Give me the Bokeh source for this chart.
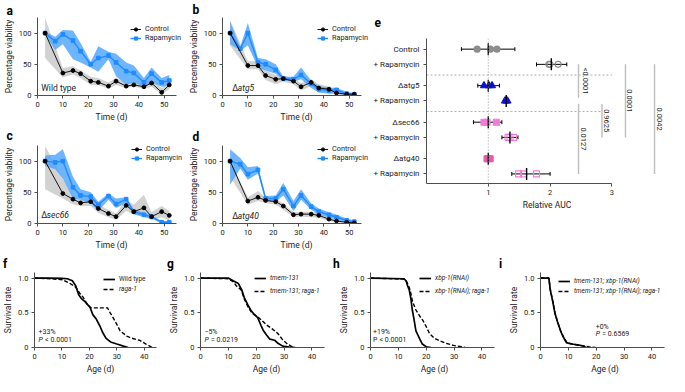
import math
from bokeh.plotting import figure
from bokeh.layouts import row, column
from bokeh.models import (Range1d, FixedTicker, Legend, LegendItem, Label, LabelSet,
                          ColumnDataSource, Span, Whisker, TeeHead)
from bokeh.core.properties import value
from bokeh.embed import file_html
from bokeh.resources import INLINE

# ---------------- data : panels a-d (percentage viability) ----------------
days_control = [3, 10, 14, 17, 21, 24, 28, 31, 35, 38, 42, 45, 49, 52]
days_rapamycin = [3, 7, 10, 14, 17, 21, 24, 28, 31, 35, 38, 42, 45, 49, 52]

wt_ctrl = [100, 36, 40, 35, 23, 21, 15, 23, 15, 17, 14, 20, 5, 17]
wt_ctrl_lo = [60, 29, 34, 28, 17, 17, 11, 17, 12, 14, 11, 14, 2, 10]
wt_ctrl_hi = [124, 44, 47, 40, 30, 28, 21, 28, 20, 23, 20, 26, 12, 24]
wt_rapa = [100, 87, 98, 88, 71, 50, 60, 64, 53, 39, 36, 21, 35, 21, 24]
wt_rapa_lo = [98, 73, 82, 58, 53, 45, 38, 58, 31, 17, 21, 14, 21, 14, 16]
wt_rapa_hi = [102, 94, 105, 104, 84, 54, 79, 70, 67, 53, 48, 28, 45, 28, 33]

atg5_ctrl = [100, 48, 48, 32, 26, 27, 23, 14, 21, 12, 10, 4, 2, 2]
atg5_ctrl_lo = [80, 42, 42, 25, 18, 22, 18, 8, 15, 6, 5, 0, 0, 0]
atg5_ctrl_hi = [121, 55, 55, 40, 33, 32, 28, 20, 26, 18, 15, 8, 4, 3]
atg5_rapa = [100, 75, 100, 53, 50, 41, 27, 26, 33, 19, 10, 8, 9, 3, 2]
atg5_rapa_lo = [82, 72, 80, 45, 40, 35, 24, 22, 26, 12, 5, 3, 4, 0, 0]
atg5_rapa_hi = [118, 78, 116, 60, 58, 50, 30, 30, 45, 24, 15, 13, 12, 6, 4]

sec66_ctrl = [100, 48, 39, 33, 35, 24, 16, 11, 29, 19, 25, 11, 19, 13]
sec66_ctrl_lo = [55, 40, 31, 28, 28, 17, 10, 6, 20, 14, 12, 5, 10, 5]
sec66_ctrl_hi = [124, 72, 45, 38, 40, 30, 22, 16, 38, 30, 46, 18, 28, 20]
sec66_rapa = [100, 98, 100, 58, 45, 43, 30, 44, 31, 39, 19, 14, 11, 2, 2]
sec66_rapa_lo = [92, 87, 72, 40, 38, 32, 20, 38, 25, 32, 15, 10, 8, 0, 0]
sec66_rapa_hi = [109, 110, 119, 75, 55, 50, 35, 48, 40, 42, 22, 18, 13, 4, 4]

atg40_ctrl = [100, 36, 42, 37, 35, 28, 14, 15, 15, 13, 7, 4, 2, 1]
atg40_ctrl_lo = [75, 30, 36, 33, 30, 22, 10, 11, 10, 9, 4, 2, 0, 0]
atg40_ctrl_hi = [100, 42, 52, 42, 40, 32, 18, 19, 19, 17, 10, 7, 4, 3]
atg40_rapa = [100, 95, 79, 86, 40, 40, 55, 28, 45, 27, 19, 14, 10, 5, 3]
atg40_rapa_lo = [62, 88, 70, 80, 36, 35, 45, 20, 38, 22, 14, 10, 6, 2, 0]
atg40_rapa_hi = [119, 105, 90, 92, 44, 45, 65, 36, 55, 32, 24, 18, 14, 8, 5]

time_ticks = [0, 10, 20, 30, 40, 50]
viab_ticks = [0, 50, 100]

# ---------------- data : panel e (relative AUC) ----------------
e_labels = ["Control", "+ Rapamycin", "Δatg5", "+ Rapamycin",
            "Δsec66", "+ Rapamycin", "Δatg40", "+ Rapamycin"]
e_pos = [0, 1, 2.4, 3.4, 4.8, 5.8, 7.2, 8.2]
e_points = [[0.82, 1.04, 1.14], [1.98, 2.0, 2.13], [0.93, 1.01, 1.06], [1.27, 1.29, 1.31],
            [0.93, 0.98, 1.13], [1.32, 1.35, 1.41], [0.98, 1.0, 1.03], [1.49, 1.57, 1.78]]
e_mean = [1.0, 2.02, 1.0, 1.29, 1.0, 1.35, 1.0, 1.62]
e_lo = [0.565, 1.78, 0.83, 1.25, 0.76, 1.22, 0.97, 1.38]
e_hi = [1.43, 2.27, 1.18, 1.33, 1.22, 1.48, 1.03, 2.0]
sep_y = [1.7, 4.1]
sep_x_end = [3.0, 2.84]
br_x = [2.46, 2.46, 2.84, 3.22, 3.69]
br_y0 = [1.0, 3.6, 3.6, 1.0, 1.0]
br_y1 = [3.2, 8.2, 5.8, 5.8, 8.2]
br_p = ["<0.0001", "0.0127", "0.9625", "0.0001", "0.0042"]
auc_ticks = [1, 2, 3]

# styles for panel e groups
e_marker = ["circle", "circle", "triangle", "triangle", "square", "square", "square", "square"]
e_color = ["#8c8c8c", "#8c8c8c", "#0c0cd8", "#0c0cd8", "#f27ad9", "#f27ad9", "#ec58ac", "#f27ad9"]
e_fill_alpha = [1.0, 0.0, 1.0, 0.35, 1.0, 0.0, 1.0, 0.0]
e_size = [6, 6, 7, 7, 6, 6, 6, 6]

# ---------------- data : panels f-i (survival) ----------------
f_wt_t = [0, 5, 10, 12, 13.8, 15, 16.1, 17.2, 18.4, 20.2, 21.3, 22.5, 23.7, 24.8, 26, 27.7, 30, 32.4, 34.1]
f_wt_s = [1.0, 1.0, 0.995, 0.99, 0.96, 0.89, 0.76, 0.70, 0.66, 0.58, 0.47, 0.41, 0.32, 0.22, 0.135, 0.08, 0.05, 0.02, 0.0]
f_rg_t = [0, 6, 10.3, 12.6, 15, 16.7, 17.8, 19.2, 20.7, 26.6, 27.7, 29.5, 31.2, 33.6, 35.3, 38.2, 40.6, 42.9]
f_rg_s = [1.0, 0.99, 0.975, 0.93, 0.87, 0.77, 0.72, 0.62, 0.57, 0.57, 0.49, 0.37, 0.24, 0.165, 0.135, 0.105, 0.05, 0.0]

g_tm_t = [0, 10, 11.7, 13.6, 14.8, 15.7, 16.9, 18, 19.2, 20.5, 21.7, 22.6, 23.7, 24.9, 26.6, 27.8, 29.5, 31.8, 34]
g_tm_s = [1.0, 1.0, 0.96, 0.92, 0.83, 0.72, 0.62, 0.54, 0.48, 0.43, 0.32, 0.24, 0.18, 0.12, 0.105, 0.06, 0.02, 0.005, 0.0]
g_rg_t = [0, 10, 11.7, 12.8, 14.6, 15.7, 17.1, 18.6, 20.3, 22, 23.7, 26, 27.8, 29.5, 31.2, 32.9, 33.5]
g_rg_s = [1.0, 0.99, 0.95, 0.89, 0.83, 0.70, 0.58, 0.49, 0.45, 0.39, 0.325, 0.26, 0.2, 0.11, 0.05, 0.01, 0.0]

h_x_t = [0, 12, 12.8, 13.3, 13.9, 14.5, 15, 15.6, 16.3, 17, 17.7, 18.6, 20, 21.7]
h_x_s = [1.0, 0.99, 0.96, 0.89, 0.83, 0.70, 0.54, 0.41, 0.24, 0.18, 0.12, 0.05, 0.01, 0.0]
h_rg_t = [0, 12, 13.1, 14.2, 15.1, 16.3, 17.7, 18.8, 20, 21.2, 22.9, 24.6, 26.9, 29.8, 32.7, 33.9]
h_rg_s = [1.0, 0.985, 0.94, 0.83, 0.66, 0.54, 0.45, 0.39, 0.30, 0.2, 0.135, 0.10, 0.063, 0.03, 0.01, 0.0]

i_x_t = [0, 3, 3.5, 4.4, 5.2, 6.1, 7.2, 8.1, 9.3, 11, 13.3, 15.6, 16.2]
i_x_s = [1.0, 1.0, 0.83, 0.66, 0.49, 0.37, 0.24, 0.156, 0.07, 0.05, 0.04, 0.02, 0.0]
i_rg_t = [0, 3, 3.6, 4.5, 5.3, 6.2, 7.3, 8.3, 9.5, 11.5, 14, 17.4, 19.7]
i_rg_s = [1.0, 1.0, 0.82, 0.65, 0.48, 0.36, 0.23, 0.15, 0.07, 0.05, 0.03, 0.01, 0.0]

age_ticks = [0, 10, 20, 30, 40]
surv_ticks = [0, 0.5, 1]
surv_tick_labels = ["0", "0.5", "1.0"]

# ---------------- styling ----------------
FONT = "Roboto"
AX = "#4d4d4d"
TXT = "#222222"
BLUE = "#1f8bff"
BLUE_BAND = "#55a8ff"
GRAY_BAND = "#d0d0d0"


def base_fig(w, h, l, r, t, b, xr, yr):
    p = figure(width=w, height=h, x_range=xr, y_range=yr, output_backend="svg",
               toolbar_location=None, min_border_left=l, min_border_right=r,
               min_border_top=t, min_border_bottom=b)
    p.outline_line_color = None
    p.xgrid.visible = False
    p.ygrid.visible = False
    for ax in p.axis:
        ax.axis_line_color = AX
        ax.axis_line_width = 1
        ax.major_tick_line_color = AX
        ax.minor_tick_line_color = None
        ax.major_tick_out = 3
        ax.major_tick_in = 0
        ax.major_label_standoff = 3
        ax.major_label_text_font = FONT
        ax.major_label_text_font_size = "7.5px"
        ax.major_label_text_color = TXT
        ax.axis_label_text_font = FONT
        ax.axis_label_text_font_size = "8.5px"
        ax.axis_label_text_font_style = "normal"
        ax.axis_label_text_color = TXT
        ax.axis_label_standoff = 2
    return p


def letter(p, txt, dx, standoff):
    p.title.text = txt
    p.title.align = "left"
    p.title.offset = dx
    p.title.standoff = standoff
    p.title.vertical_align = "bottom"
    p.title.text_font = FONT
    p.title.text_font_size = "12px"
    p.title.text_font_style = "bold"
    p.title.text_color = "black"


def viability_panel(w, h, t, b, x_end, ctrl, ctrl_lo, ctrl_hi, rapa, rapa_lo, rapa_hi,
                    name_parts, name_x, name_y, let, let_dx, let_so, leg_xy):
    p = base_fig(w, h, 32, 0, t, b, Range1d(0, x_end), Range1d(0, 125))
    p.xaxis.bounds = (0, 55)
    p.xaxis.ticker = FixedTicker(ticks=time_ticks)
    p.yaxis.ticker = FixedTicker(ticks=viab_ticks)
    p.xaxis.axis_label = "Time (d)"
    p.yaxis.axis_label = "Percentage viability"
    p.varea(x=days_control, y1=ctrl_lo, y2=ctrl_hi, fill_color=GRAY_BAND, fill_alpha=0.95)
    p.varea(x=days_rapamycin, y1=rapa_lo, y2=rapa_hi, fill_color=BLUE_BAND, fill_alpha=0.85)
    rr1 = p.line(days_rapamycin, rapa, line_color=BLUE, line_width=1.4)
    rr2 = p.scatter(days_rapamycin, rapa, marker="square", size=3.6, color=BLUE)
    rc1 = p.line(days_control, ctrl, line_color="black", line_width=0.9)
    rc2 = p.scatter(days_control, ctrl, marker="circle", size=3.8, color="black")
    for txt, style, dx in name_parts:
        p.add_layout(Label(x=name_x, y=name_y, x_offset=dx, text=txt, text_font=FONT,
                           text_font_style=style, text_font_size="8.5px",
                           text_baseline="middle", text_color=TXT))
    leg = Legend(items=[LegendItem(label="Control", renderers=[rc1, rc2]),
                        LegendItem(label="Rapamycin", renderers=[rr1, rr2])],
                 location=leg_xy, glyph_width=11, glyph_height=8, label_height=8,
                 label_standoff=4, padding=0, margin=0, spacing=0,
                 border_line_color=None, background_fill_alpha=0,
                 label_text_font=FONT, label_text_font_size="7.3px", label_text_color=TXT)
    p.add_layout(leg)
    letter(p, let, let_dx, let_so)
    return p


# x_end lets the frame run under the legend; the axis itself stops at 55
pa = viability_panel(185, 124, 12, 29, 58.4, wt_ctrl, wt_ctrl_lo, wt_ctrl_hi,
                     wt_rapa, wt_rapa_lo, wt_rapa_hi, [("Wild type", "normal", 0)],
                     1.5, 12.7, "a", -31, 0, (93, 53))
pb = viability_panel(185, 124, 12, 29, 58.4, atg5_ctrl, atg5_ctrl_lo, atg5_ctrl_hi,
                     atg5_rapa, atg5_rapa_lo, atg5_rapa_hi,
                     [("Δ", "normal", 0), ("atg5", "italic", 5.5)],
                     3.85, 12.7, "b", -30, 1, (95, 53))
pc = viability_panel(185, 128, 18, 28, 58.4, sec66_ctrl, sec66_ctrl_lo, sec66_ctrl_hi,
                     sec66_rapa, sec66_rapa_lo, sec66_rapa_hi,
                     [("Δ", "normal", 0), ("sec66", "italic", 5.5)],
                     1.5, 13.3, "c", -31, 4.5, (94, 61))
pd_ = viability_panel(185, 128, 18, 28, 58.4, atg40_ctrl, atg40_ctrl_lo, atg40_ctrl_hi,
                      atg40_rapa, atg40_rapa_lo, atg40_rapa_hi,
                      [("Δ", "normal", 0), ("atg40", "italic", 5.5)],
                      3.85, 12.3, "d", -30, 4, (95, 61))

# ---------------- panel e ----------------
pe = base_fig(299, 252, 56, 2, 38, 69, Range1d(0, 3.9), Range1d(8.83, -0.7))
pe.xaxis.bounds = (0, 3)
pe.xaxis.ticker = FixedTicker(ticks=auc_ticks)
pe.xaxis.axis_label = "Relative AUC"
pe.yaxis.ticker = FixedTicker(ticks=e_pos)
pe.yaxis.major_label_overrides = dict(zip(e_pos, e_labels))
pe.yaxis.major_label_text_font_size = "8px"
pe.yaxis.major_label_standoff = 4

pe.add_layout(Span(location=1, dimension="height", line_color="#9a9a9a",
                   line_dash="1 2", line_width=1))
pe.segment(x0=[0] * len(sep_y), y0=sep_y, x1=sep_x_end, y1=sep_y,
           line_color="#9a9a9a", line_dash="2 2", line_width=0.8)
pe.segment(x0=br_x, y0=br_y0, x1=br_x, y1=br_y1, line_color="#bdbdbd", line_width=1.4)
br_src = ColumnDataSource(dict(x=br_x, y=[(a + b) / 2 for a, b in zip(br_y0, br_y1)], t=br_p))
pe.add_layout(LabelSet(x="x", y="y", text="t", source=br_src, angle=-math.pi / 2,
                       x_offset=2, text_align="center", text_baseline="bottom",
                       text_font=value(FONT), text_font_size=value("7.5px"),
                       text_color=TXT))

pts = dict(x=[], y=[], marker=[], color=[], fa=[], size=[])
for i, vals in enumerate(e_points):
    for v in vals:
        pts["x"].append(v)
        pts["y"].append(e_pos[i])
        pts["marker"].append(e_marker[i])
        pts["color"].append(e_color[i])
        pts["fa"].append(e_fill_alpha[i])
        pts["size"].append(e_size[i])
pe.scatter(x="x", y="y", marker="marker", size="size", fill_color="color",
           line_color="color", fill_alpha="fa", line_width=1.1,
           source=ColumnDataSource(pts))

stat_src = ColumnDataSource(dict(y=e_pos, m=e_mean, lo=e_lo, hi=e_hi))
pe.add_layout(Whisker(source=stat_src, base="y", lower="lo", upper="hi", dimension="width",
                      line_color="black", line_width=1,
                      upper_head=TeeHead(size=4, line_color="black", line_width=1),
                      lower_head=TeeHead(size=4, line_color="black", line_width=1)))
pe.scatter(x="m", y="y", marker="dash", angle=math.pi / 2, size=12,
           line_color="black", line_width=1.4, source=stat_src)
letter(pe, "e", -52, 24)


# ---------------- panels f-i ----------------
def survival_panel(w, l, r, t1, s1, t2, s2, names, styles, leg_x, leg_y1, leg_y2,
                   pct, p_rest, p_style, tx, ty1, ty2, let, let_dx):
    x_end = 44.5 + r / (124 / 44.5)
    p = base_fig(w, 124, l, 0, 17, 27, Range1d(0, x_end), Range1d(0, 1.08))
    p.xaxis.bounds = (0, 44.5)
    p.xaxis.ticker = FixedTicker(ticks=age_ticks)
    p.yaxis.ticker = FixedTicker(ticks=surv_ticks)
    p.yaxis.major_label_overrides = dict(zip(surv_ticks, surv_tick_labels))
    p.xaxis.axis_label = "Age (d)"
    p.yaxis.axis_label = "Survival rate"
    r2 = p.line(t2, s2, line_color="black", line_width=1.4, line_dash="4 2")
    r1 = p.line(t1, s1, line_color="black", line_width=1.7)
    for rend, name, style, ly in ((r1, names[0], styles[0], leg_y1), (r2, names[1], styles[1], leg_y2)):
        p.add_layout(Legend(items=[LegendItem(label=name, renderers=[rend])],
                            location=(leg_x, ly), glyph_width=12, glyph_height=8,
                            label_height=8, label_standoff=4, padding=0, margin=0,
                            spacing=0, border_line_color=None, background_fill_alpha=0,
                            label_text_font=FONT, label_text_font_size="6.5px",
                            label_text_font_style=style, label_text_color=TXT))
    p.add_layout(Label(x=tx, y=ty1, text=pct, text_font=FONT, text_font_size="7px",
                       text_baseline="middle", text_color=TXT))
    p.add_layout(Label(x=tx, y=ty2, text="P", text_font=FONT, text_font_size="7px",
                       text_font_style=p_style, text_baseline="middle", text_color=TXT))
    p.add_layout(Label(x=tx, y=ty2, x_offset=6.5, text=p_rest, text_font=FONT,
                       text_font_size="7px", text_baseline="middle", text_color=TXT))
    letter(p, let, let_dx, 4)
    return p


# canvases start where each panel letter sits: 0, 166, 332, 498
pf = survival_panel(166, 32, 10, f_wt_t, f_wt_s, f_rg_t, f_rg_s, ["Wild type", "raga-1"],
                    ["normal", "italic"], 69, 64, 54, "+33%", "< 0.0001", "italic",
                    1.5, 0.22, 0.114, "f", -31.5)
pg = survival_panel(166, 34, 8, g_tm_t, g_tm_s, g_rg_t, g_rg_s,
                    ["tmem-131", "tmem-131; raga-1"], ["italic", "italic"],
                    54, 65, 52, "\u22125%", "= 0.0219", "italic", 1.4, 0.22, 0.114, "g", -33.5)
ph = survival_panel(166, 38, 4, h_x_t, h_x_s, h_rg_t, h_rg_s,
                    ["xbp-1(RNAi)", "xbp-1(RNAi); raga-1"], ["italic", "italic"],
                    49, 65, 52, "+19%", "< 0.0001", "normal", 0.9, 0.22, 0.114, "h", -37.5)
pi_ = survival_panel(171, 42, 5, i_x_t, i_x_s, i_rg_t, i_rg_s,
                     ["tmem-131; xbp-1(RNAi)", "tmem-131; xbp-1(RNAi); raga-1"],
                     ["italic", "italic"], 18, 62, 52, "+0%", "= 0.6569", "italic",
                     19.8, 0.30, 0.19, "i", -41.5)

top = row(column(row(pa, pb), row(pc, pd_)), pe)
layout = column(top, row(pf, pg, ph, pi_))

open("out.html", "w").write(file_html(layout, INLINE))
